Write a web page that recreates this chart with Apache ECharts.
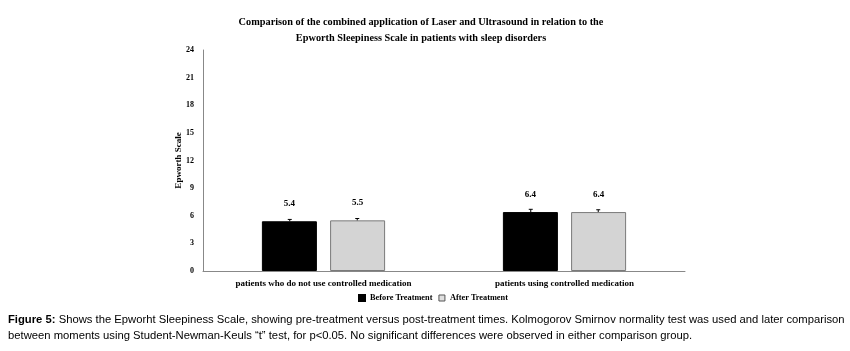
<!DOCTYPE html>
<html>
<head>
<meta charset="utf-8">
<script src="https://cdn.jsdelivr.net/npm/echarts@6/dist/echarts.min.js"></script>
<style>
  html, body { margin: 0; padding: 0; background: #fff; }
  #main { width: 850px; height: 351px; }
</style>
</head>
<body>
<div id="main"></div>
<script>
var categories = ['patients who do not use controlled medication', 'patients using controlled medication'];
var beforeValues = [5.4, 6.4];
var afterValues = [5.5, 6.4];
var beforeErr = [0.2, 0.3];
var afterErr = [0.2, 0.25];
var yTicks = [0, 3, 6, 9, 12, 15, 18, 21, 24];

var serif = '"Liberation Serif", "Times New Roman", serif';
var sans = '"Liberation Sans Narrow", "Liberation Sans", Arial, sans-serif';
var myChart = echarts.init(document.getElementById('main'));

// small error bar caps drawn over each bar
function errorSeries(name, values, errs, offsetSign) {
    return {
        type: 'custom',
        name: name + ' err',
        z: 5,
        silent: true,
        renderItem: function (params, api) {
            var idx = api.value(0);
            var top = api.coord([idx, api.value(1) + api.value(2)]);
            var base = api.coord([idx, api.value(1)]);
            var size = api.size([1, 0]);
            var x = top[0] + offsetSign * size[0] * 0.14;
            return {
                type: 'group',
                children: [
                    { type: 'line', shape: { x1: x, y1: base[1], x2: x, y2: top[1] }, style: { stroke: '#000', lineWidth: 1 } },
                    { type: 'line', shape: { x1: x - 2, y1: top[1], x2: x + 2, y2: top[1] }, style: { stroke: '#000', lineWidth: 1 } }
                ]
            };
        },
        data: values.map(function (v, i) { return [i, v, errs[i]]; })
    };
}

function labelFmt(p) { return p.value.toFixed(1); }

option = {
    animation: false,
    title: {
        text: 'Comparison of the combined application of Laser and Ultrasound in relation to the\nEpworth Sleepiness Scale in patients with sleep disorders',
        left: 416,
        textAlign: 'center',
        top: 9,
        textStyle: { fontFamily: serif, fontSize: 10.3, fontWeight: 'bold', color: '#000', lineHeight: 16 }
    },
    legend: {
        data: [
            { name: 'Before Treatment', itemStyle: { color: '#000', borderColor: '#000' } },
            { name: 'After Treatment', itemStyle: { color: '#e0e0e0', borderColor: '#555', borderWidth: 1 } }
        ],
        left: 353,
        top: 289,
        itemWidth: 6,
        itemHeight: 6,
        itemGap: 6,
        icon: 'rect',
        textStyle: { fontFamily: serif, fontSize: 8.3, fontWeight: 'bold', color: '#000' }
    },
    grid: {
        left: 203,
        right: 165,
        top: 50,
        bottom: 80
    },
    xAxis: {
        type: 'category',
        data: categories,
        axisLine: { lineStyle: { color: '#888', width: 1 } },
        axisTick: { show: false },
        axisLabel: { fontFamily: serif, fontSize: 9, fontWeight: 'bold', color: '#000', margin: 8 }
    },
    yAxis: {
        type: 'value',
        min: 0,
        max: 24,
        interval: 3,
        name: 'Epworth Scale',
        nameLocation: 'middle',
        nameGap: 20,
        nameMoveOverlap: false,
        nameTextStyle: { fontFamily: serif, fontSize: 9, fontWeight: 'bold', color: '#000' },
        splitLine: { show: false },
        axisLine: { show: true, lineStyle: { color: '#888', width: 1 } },
        axisTick: { show: false },
        axisLabel: {
            fontFamily: serif, fontSize: 8, fontWeight: 'bold', color: '#000', margin: 9,
            formatter: function (v) { return yTicks.indexOf(v) >= 0 ? String(v) : ''; }
        }
    },
    series: [
        {
            name: 'Before Treatment',
            type: 'bar',
            barWidth: 55,
            barGap: '24%',
            itemStyle: { color: '#000', borderColor: '#000', borderWidth: 1 },
            label: { show: true, position: 'top', distance: 13, fontFamily: serif, fontSize: 9, fontWeight: 'bold', color: '#000', formatter: labelFmt },
            data: beforeValues
        },
        {
            name: 'After Treatment',
            type: 'bar',
            barWidth: 55,
            itemStyle: { color: '#d4d4d4', borderColor: '#7a7a7a', borderWidth: 1 },
            label: { show: true, position: 'top', distance: 13, fontFamily: serif, fontSize: 9, fontWeight: 'bold', color: '#000', formatter: labelFmt },
            data: afterValues
        },
        errorSeries('Before Treatment', beforeValues, beforeErr, -1),
        errorSeries('After Treatment', afterValues, afterErr, 1)
    ],
    graphic: [
        {
            type: 'text',
            left: 8,
            top: 312,
            style: {
                text: '{b|Figure 5:} Shows the Epworht Sleepiness Scale, showing pre-treatment versus post-treatment times. Kolmogorov Smirnov normality test was used and later comparison\nbetween moments using Student-Newman-Keuls \u201ct\u201d test, for p<0.05. No significant differences were observed in either comparison group.',
                font: '11.25px ' + sans,
                fill: '#000',
                lineHeight: 16,
                rich: {
                    b: { fontWeight: 'bold', fontFamily: sans, fontSize: 11.25 }
                }
            }
        }
    ]
};
myChart.setOption(option);
</script>
</body>
</html>
